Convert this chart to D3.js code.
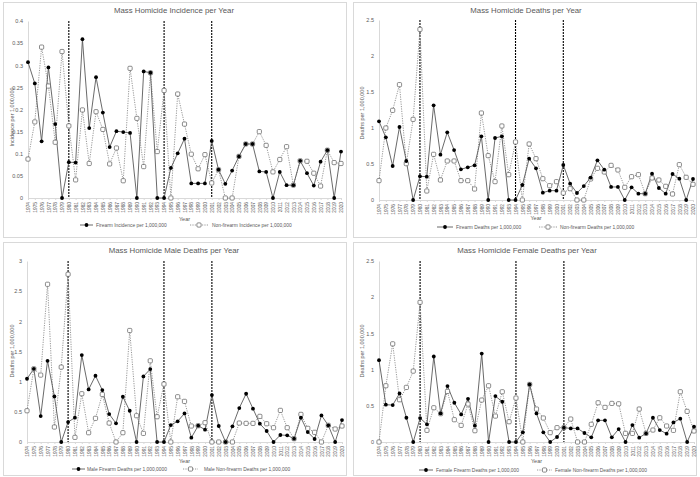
<!DOCTYPE html>
<html><head><meta charset="utf-8">
<script src="https://cdn.jsdelivr.net/npm/d3@7"></script>
<style>body{margin:0;background:#fff}svg{display:block;font-family:"Liberation Sans",Arial,sans-serif}</style>
</head><body><svg id="c" width="700" height="477"></svg>
<script>
const years = d3.range(1974, 2021);
const periodBreaks = [1980, 1994, 2001];

const incFirearm = [0.307,0.259,0.128,0.295,0.167,0,0.081,0.080,0.359,0.158,0.273,0.193,0.115,0.151,0.149,0.147,0,0.286,0.283,0,0,0.068,0.101,0.134,0.033,0.033,0.033,0.129,0.064,0.032,0.062,0.094,0.122,0.122,0.060,0.059,0,0.059,0.029,0.029,0.084,0.056,0.028,0.082,0.108,0,0.105];
const incNonFirearm = [0.088,0.172,0.341,0.253,0.126,0.331,0.163,0.041,0.199,0.078,0.195,0.155,0.077,0.113,0.039,0.293,0.180,0.071,0.283,0.105,0.243,0,0.235,0.167,0.099,0.066,0.098,0.034,0.064,0,0,0.094,0.122,0.122,0.150,0.119,0.059,0.087,0.116,0.029,0.084,0.083,0.056,0.027,0.108,0.080,0.078];

const deathFirearm = [1.093,0.870,0.472,1.014,0.542,0,0.329,0.324,1.315,0.630,0.940,0.694,0.426,0.454,0.481,0.884,0,0.861,0.884,0,0,0.208,0.574,0.440,0.102,0.130,0.130,0.486,0.227,0.097,0.194,0.310,0.551,0.421,0.181,0.181,0,0.176,0.088,0.088,0.366,0.167,0.088,0.361,0.296,0,0.292];
const deathNonFirearm = [0.269,1.0,1.245,1.602,0.505,1.12,2.37,0.125,0.634,0.278,0.542,0.542,0.269,0.269,0.153,1.208,0.616,0.255,1.028,0.352,0.806,0,0.778,0.574,0.296,0.199,0.255,0.097,0.157,0,0,0.292,0.440,0.389,0.481,0.417,0.176,0.324,0.352,0.088,0.306,0.278,0.190,0.083,0.491,0.315,0.218];

const maleFirearm = [1.048,1.213,0.430,1.346,0.756,0,0.331,0.403,1.44,0.871,1.098,0.860,0.463,0.309,0.750,0.518,0,1.087,1.208,0,0,0.281,0.342,0.474,0.072,0.270,0.204,0.778,0.265,0,0.259,0.563,0.800,0.552,0.303,0.182,0,0.116,0.110,0.055,0.403,0.165,0.050,0.441,0.276,0,0.364];
const maleNonFirearm = [0.518,1.213,1.109,2.614,0.248,1.241,2.78,0.077,0.800,0.154,0.392,0.789,0.314,0,0.154,1.848,0.436,0.143,1.346,0.419,0.960,0,0.750,0.673,0.265,0.270,0.320,0,0,0,0,0.314,0.309,0.309,0.425,0.303,0.237,0.524,0.237,0.055,0.458,0.226,0.160,0,0.276,0.215,0.265];

const femaleFirearm = [1.13,0.515,0.510,0.671,0.335,0,0.331,0.244,1.181,0.395,0.772,0.542,0.381,0.597,0.225,1.222,0,0.634,0.556,0,0,0.133,0.795,0.395,0.133,0,0.069,0.198,0.188,0.188,0.124,0.064,0.299,0.299,0.064,0.179,0,0.234,0.060,0.119,0.335,0.165,0.115,0.271,0.322,0,0.211];
const femaleNonFirearm = [0,0.777,1.356,0.584,0.754,0.979,1.93,0.161,0.473,0.391,0.699,0.308,0.230,0.524,0.156,0.579,0.777,0.358,0.694,0.280,0.607,0,0.795,0.455,0.331,0.129,0.198,0.198,0.317,0,0,0.244,0.542,0.478,0.533,0.528,0.119,0.119,0.455,0.119,0.165,0.335,0.221,0.161,0.694,0.423,0.152];

const titles = ["Mass Homicide Incidence per Year","Mass Homicide Deaths per Year","Mass Homicide Male Deaths per Year","Mass Homicide Female Deaths per Year"];
const yTitles = ["Incidence per 1,000,000","Deaths per 1,000,000","Deaths per 1,000,000","Deaths per 1,000,000"];
const legendA = ["Firearm Incidence per 1,000,000","Firearm Deaths per 1,000,000","Male Firearm Deaths per 1,000,0000","Female Firearm Deaths per 1,000,000"];
const legendB = ["Non-firearm Incidence per 1,000,000","Non-firearm Deaths per 1,000,000","Male Non-firearm Deaths per 1,000,000","Female Non-firearm Deaths per 1,000,000"];
const yMax = [0.4, 2.5, 3, 2.5];
const yStep = [0.05, 0.5, 0.5, 0.5];
const seriesA = [incFirearm, deathFirearm, maleFirearm, femaleFirearm];
const seriesB = [incNonFirearm, deathNonFirearm, maleNonFirearm, femaleNonFirearm];

// layout
const layout = [
  {bx:3.5, by:2.5, bw:343, bh:235, x0:28, x1:341, yT:21, yB:198, tx:174, ty:13, ytx:12, yty:117, yearY:221, legY:225, la:[80,93,96], lb:[190,208,212]},
  {bx:353.5, by:2.5, bw:343, bh:235, x0:379, x1:693, yT:20, yB:200, tx:526, ty:13, ytx:362, yty:113, yearY:219.5, legY:227, la:[437,453,456], lb:[539,557,560]},
  {bx:3.5, by:242.5, bw:343, bh:233, x0:27, x1:342, yT:261, yB:442, tx:174, ty:253, ytx:12, yty:351, yearY:462.5, legY:469, la:[72,85,87], lb:[183,198,204]},
  {bx:353.5, by:242.5, bw:343, bh:233, x0:379, x1:694, yT:261, yB:442, tx:527, ty:253, ytx:362, yty:351, yearY:463, legY:470, la:[419,433,436], lb:[537,552,555]}
];

const svg = d3.select("#c");
const txtCol = "#595959";

layout.forEach((L, i) => {
  const g = svg.append("g");
  g.append("rect").attr("x", L.bx).attr("y", L.by).attr("width", L.bw).attr("height", L.bh)
    .attr("fill", "#fff").attr("stroke", "#d9d9d9").attr("stroke-width", 1);
  const x = d3.scalePoint().domain(years).range([L.x0, L.x1]);
  const y = d3.scaleLinear().domain([0, yMax[i]]).range([L.yB, L.yT]);

  // y axis
  const ticks = d3.range(0, yMax[i] + yStep[i] / 2, yStep[i]).map(v => +v.toFixed(2));
  const ya = g.append("g").attr("transform", `translate(${L.x0},0)`)
    .call(d3.axisLeft(y).tickValues(ticks).tickSize(0).tickPadding(5).tickFormat(d3.format("~g")));
  ya.select(".domain").attr("stroke", "#d9d9d9");
  ya.selectAll("text").attr("fill", txtCol).attr("font-size", 5.5).attr("font-family", "Liberation Sans, Arial, sans-serif");

  // x axis
  const xa = g.append("g").attr("transform", `translate(0,${L.yB})`)
    .call(d3.axisBottom(x).tickSize(2).tickSizeOuter(0));
  xa.select(".domain").attr("stroke", "#d9d9d9");
  xa.selectAll("line").attr("stroke", "#d9d9d9");
  xa.selectAll("text").attr("fill", txtCol).attr("font-size", 4.8).attr("font-family", "Liberation Sans, Arial, sans-serif")
    .attr("transform", "rotate(-90)").attr("text-anchor", "end").attr("dy", "0.35em").attr("x", -4).attr("y", 0);

  // period lines
  g.selectAll(".brk").data(periodBreaks).enter().append("line")
    .attr("x1", d => x(d)).attr("x2", d => x(d)).attr("y1", L.yT).attr("y2", L.yB)
    .attr("stroke", "#000").attr("stroke-width", 1.1).attr("stroke-dasharray", "2,1");

  // non-firearm series
  const lineB = d3.line().x((d, k) => x(years[k])).y(d => y(d));
  g.append("path").attr("d", lineB(seriesB[i])).attr("fill", "none")
    .attr("stroke", "#8c8c8c").attr("stroke-width", 0.9).attr("stroke-dasharray", "1.2,1.2");
  // firearm series
  g.append("path").attr("d", lineB(seriesA[i])).attr("fill", "none")
    .attr("stroke", "#595959").attr("stroke-width", 0.9);
  g.selectAll(".mb").data(seriesB[i]).enter().append("rect")
    .attr("x", (d, k) => x(years[k]) - 2.1).attr("y", d => y(d) - 2.1)
    .attr("width", 4.2).attr("height", 4.2).attr("rx", 1)
    .attr("fill", "#fff").attr("stroke", "#595959").attr("stroke-width", 0.7);
  g.selectAll(".ma").data(seriesA[i]).enter().append("circle")
    .attr("cx", (d, k) => x(years[k])).attr("cy", d => y(d)).attr("r", 1.9).attr("fill", "#000");

  // titles
  g.append("text").attr("x", L.tx).attr("y", L.ty).attr("text-anchor", "middle")
    .attr("font-size", 7.8).attr("fill", txtCol).text(titles[i]);
  g.append("text").attr("transform", `translate(${L.ytx},${L.yty}) rotate(-90)`).attr("text-anchor", "middle")
    .attr("dy", "0.35em").attr("font-size", 5.5).attr("fill", txtCol).text(yTitles[i]);
  g.append("text").attr("x", (L.x0 + L.x1) / 2).attr("y", L.yearY).attr("text-anchor", "middle")
    .attr("font-size", 5.5).attr("fill", txtCol).text("Year");

  // legend
  const la = L.la, lb = L.lb;
  g.append("line").attr("x1", la[0]).attr("x2", la[1]).attr("y1", L.legY).attr("y2", L.legY)
    .attr("stroke", "#595959").attr("stroke-width", 0.9);
  g.append("circle").attr("cx", (la[0] + la[1]) / 2).attr("cy", L.legY).attr("r", 1.9).attr("fill", "#000");
  g.append("text").attr("x", la[2]).attr("y", L.legY).attr("dy", "0.35em").attr("font-size", 4.9).attr("fill", txtCol).text(legendA[i]);
  g.append("line").attr("x1", lb[0]).attr("x2", lb[1]).attr("y1", L.legY).attr("y2", L.legY)
    .attr("stroke", "#8c8c8c").attr("stroke-width", 0.9).attr("stroke-dasharray", "1.2,1.2");
  g.append("rect").attr("x", (lb[0] + lb[1]) / 2 - 2.1).attr("y", L.legY - 2.1).attr("width", 4.2).attr("height", 4.2).attr("rx", 1)
    .attr("fill", "#fff").attr("stroke", "#595959").attr("stroke-width", 0.7);
  g.append("text").attr("x", lb[2]).attr("y", L.legY).attr("dy", "0.35em").attr("font-size", 4.9).attr("fill", txtCol).text(legendB[i]);
});
</script></body></html>
